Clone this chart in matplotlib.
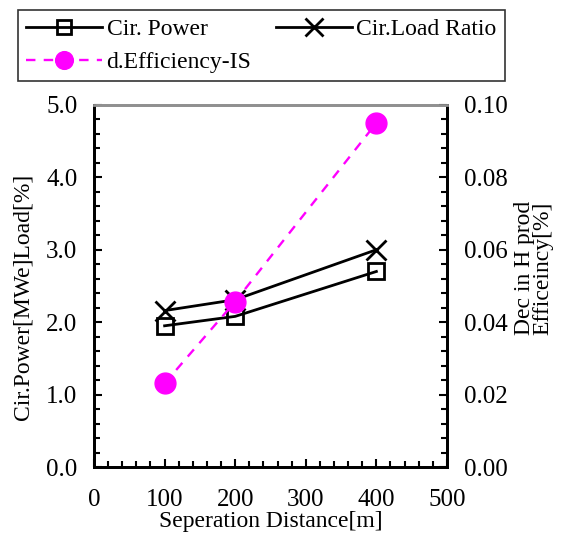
import numpy as np
import matplotlib
matplotlib.use("Agg")
import matplotlib.pyplot as plt
from matplotlib.ticker import MultipleLocator, FormatStrFormatter

plt.rcParams['font.family'] = ['Liberation Serif', 'DejaVu Serif']

# data
distance = [100, 200, 400]
cir_power = [1.95, 2.08, 2.70]
load_ratio = [2.16, 2.31, 3.00]
eff_drop = [0.0231, 0.0457, 0.0950]

fig = plt.figure(figsize=(5.62, 5.35), dpi=100)
ax = fig.add_axes([0.1673, 0.127, 0.628, 0.677])
ax2 = ax.twinx()

l1, = ax.plot(distance, cir_power, color='black', lw=2, marker='s', ms=12,
              mfc='none', mec='black', mew=2, label='Cir. Power')
l2, = ax.plot(distance, load_ratio, color='black', lw=2, marker='x', ms=15,
              mew=2, label='Cir.Load Ratio')
l3, = ax2.plot(distance, eff_drop, color='#ff00ff', lw=1.7, ls=(0, (4, 3.5)),
               marker='o', ms=15, mfc='#ff00ff', mec='#ff00ff',
               label='d.Efficiency-IS')

ax.set_xlim(0, 500)
ax.set_ylim(0, 5)
ax2.set_ylim(0, 0.10)
ax.xaxis.set_major_locator(MultipleLocator(100))
ax.xaxis.set_minor_locator(MultipleLocator(20))
ax.yaxis.set_major_locator(MultipleLocator(1))
ax.yaxis.set_minor_locator(MultipleLocator(0.2))
ax.yaxis.set_major_formatter(FormatStrFormatter('%.1f'))
ax2.yaxis.set_major_locator(MultipleLocator(0.02))
ax2.yaxis.set_minor_locator(MultipleLocator(0.004))
ax2.yaxis.set_major_formatter(FormatStrFormatter('%.2f'))

ax.tick_params(axis='both', which='both', direction='in', labelsize=18, width=1.5)
ax.tick_params(which='major', length=6)
ax.tick_params(which='minor', length=4)
ax.tick_params(axis='y', which='major', pad=12)
ax.tick_params(axis='x', which='major', pad=16)
ax2.tick_params(axis='y', which='both', direction='in', labelsize=18, width=1.5)
ax2.tick_params(which='major', length=6, pad=12)
ax2.tick_params(which='minor', length=4)

for a in (ax, ax2):
    for s in ['left', 'bottom', 'right']:
        a.spines[s].set_linewidth(2)
    a.spines['top'].set_color('#909090')
    a.spines['top'].set_linewidth(2)

ax.set_xlabel('Seperation Distance[m]', fontsize=17)
ax.xaxis.set_label_coords(0.5, -0.122)
ax.set_ylabel('Cir.Power[MWe]Load[%]', fontsize=17)
ax.yaxis.set_label_coords(-0.172, 0.47)
ax2.set_ylabel('Dec in H prod\nEfficeincy[%]', fontsize=17, linespacing=0.85)
ax2.yaxis.set_label_coords(1.19, 0.55)

leg = fig.legend(handles=[l1, l3, l2], loc='upper left', ncol=2, mode='expand',
                 bbox_to_anchor=(18 / 562, 1 - 79 / 535, 487 / 562, 69 / 535),
                 fontsize=17, handlelength=3.2, markerscale=0.85,
                 frameon=True, fancybox=False, edgecolor='black',
                 borderpad=0.35, borderaxespad=0, labelspacing=0.5,
                 handletextpad=0.2)
leg.get_frame().set_linewidth(1.2)

fig.savefig('out.png', dpi=100)
